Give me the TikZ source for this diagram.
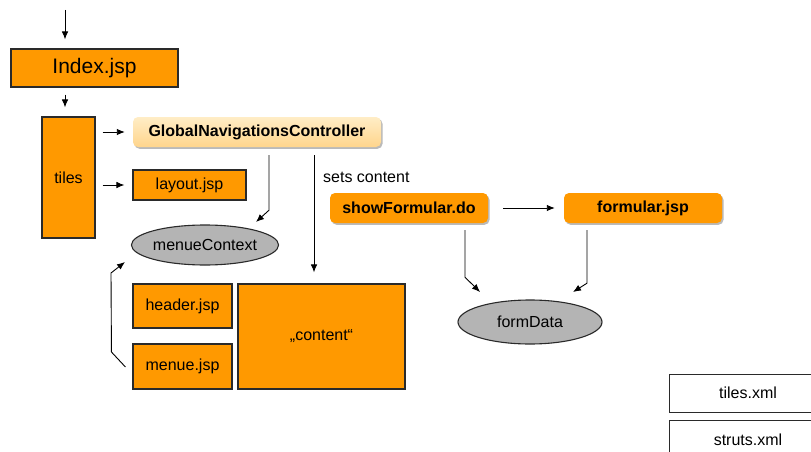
\documentclass[tikz,border=0pt]{standalone}
\usepackage{fontspec}
\setmainfont{Liberation Sans}
\usetikzlibrary{arrows.meta,calc,shadows}
\definecolor{org}{HTML}{FF9900}
\definecolor{lightorg1}{HTML}{FFEDC6}
\definecolor{lightorg2}{HTML}{FFD58C}
\definecolor{grayfill}{HTML}{B4B4B4}
\definecolor{edge}{HTML}{2A2A2A}
\tikzset{
  arr/.style={draw=black, line width=0.9pt, -{Latex[length=8pt,width=6.5pt]}},
  sqbox/.style={draw=edge, line width=1.1pt, fill=org, inner sep=0pt, font=\fontsize{16}{19}\selectfont},
  rbox/.style={rounded corners=5pt, fill=org, inner sep=0pt, font=\bfseries\fontsize{16}{19}\selectfont,
     drop shadow={shadow xshift=1.5pt, shadow yshift=-1.8pt, fill=black!45, opacity=0.6}},
  gbox/.style={rounded corners=5pt, top color=lightorg1, bottom color=lightorg2, inner sep=0pt, font=\bfseries\fontsize{16}{19}\selectfont,
     drop shadow={shadow xshift=1.5pt, shadow yshift=-1.8pt, fill=black!45, opacity=0.6}},
  ell/.style={ellipse, draw=edge, line width=1.1pt, fill=grayfill, inner sep=0pt, font=\fontsize{16}{19}\selectfont},
  wbox/.style={draw=edge, line width=1pt, fill=white, inner sep=0pt, font=\fontsize{16}{19}\selectfont},
}
\usetikzlibrary{shapes.geometric}
\begin{document}
\begin{tikzpicture}[x=1pt,y=-1pt]
\clip (0,0) rectangle (811,452);
\fill[white] (0,0) rectangle (811,452);
% nodes
\node[sqbox, minimum width=167pt, minimum height=38pt, font=\fontsize{21}{24}\selectfont] (index) at (94.5,68) {Index.jsp};
\node[sqbox, minimum width=53pt, minimum height=121pt] (tiles) at (68.5,177.5) {tiles};
\node[gbox, minimum width=248pt, minimum height=30pt] (gnc) at (257,132) {GlobalNavigationsController};
\node[sqbox, minimum width=113pt, minimum height=30pt] (layout) at (189.5,185) {layout.jsp};
\node[ell, minimum width=144pt, minimum height=40pt] (mc) at (205,245) {menueContext};
\node[sqbox, minimum width=99pt, minimum height=44pt] (header) at (182.5,306) {header.jsp};
\node[sqbox, minimum width=99pt, minimum height=45pt] (menue) at (182.5,366.5) {menue.jsp};
\node[sqbox, minimum width=167pt, minimum height=105pt] (content) at (321.5,336.5) {„content“};
\node[rbox, minimum width=158pt, minimum height=30pt] (showf) at (409,208) {showFormular.do};
\node[rbox, minimum width=158pt, minimum height=30pt] (formular) at (643,208) {formular.jsp};
\node[ell, minimum width=144pt, minimum height=44pt] (fd) at (530,322) {formData};
\node[wbox, minimum width=158pt, minimum height=38pt] (tilesxml) at (748,393) {tiles.xml};
\node[wbox, minimum width=158pt, minimum height=40pt] (struts) at (748,440) {struts.xml};
\node[anchor=west, inner sep=0pt, font=\fontsize{16}{19}\selectfont] (sets) at (323,177) {sets content};
% connectors
\coordinate (start) at (65,10);
\draw[arr, shorten >=9pt] (start) -- (start |- index.north);
\draw[arr, shorten <=7pt, shorten >=9pt] (index.south -| start) -- (tiles.north -| start);
\draw[arr, shorten <=7pt, shorten >=8pt] (tiles.east |- gnc.west) -- (gnc.west);
\draw[arr, shorten <=7pt, shorten >=8pt] (tiles.east |- layout.west) -- (layout.west);
\draw[arr] ($(gnc.south)+(12,8)$) -- ($(gnc.south)+(12,63)$) -- ($(mc.center)+(51,-23)$);
\draw[arr, shorten >=11pt] ($(gnc.south)+(57,8)$) -- ($(content.north)+(-7.5,0)$);
\draw[arr] ($(menue.west)+(-7,0.5)$) -- ($(menue.west)+(-21,-14.5)$) -- ($(mc.center)+(-94,28)$) -- ($(mc.center)+(-80,17)$);
\draw[arr, shorten <=15pt, shorten >=9pt] (showf.east) -- (formular.west);
\draw[arr] ($(showf.south)+(56,7)$) -- ($(showf.south)+(56,54)$) -- ($(fd.center)+(-50,-30)$);
\draw[arr] ($(formular.south)+(-56,7)$) -- ($(formular.south)+(-56,60)$) -- ($(fd.center)+(43,-30)$);
\end{tikzpicture}
\end{document}
